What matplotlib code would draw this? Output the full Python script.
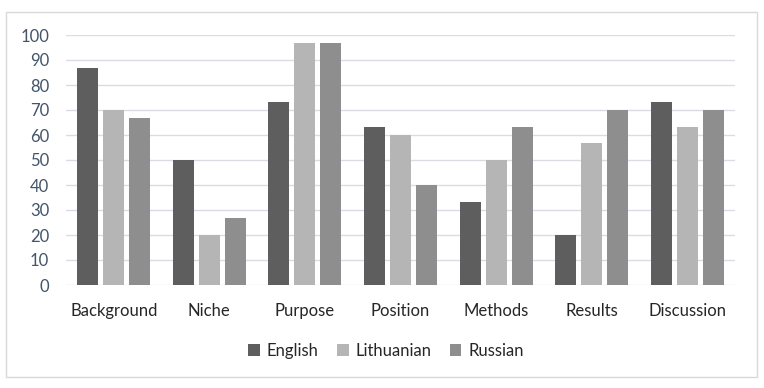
import matplotlib
matplotlib.use("Agg")
import matplotlib.pyplot as plt
import numpy as np
from matplotlib.patches import Rectangle

categories = ["Background", "Niche", "Purpose", "Position", "Methods", "Results", "Discussion"]
english = [86.7, 50, 73.3, 63.3, 33.3, 20, 73.3]
lithuanian = [70, 20, 96.7, 60, 50, 56.7, 63.3]
russian = [66.7, 26.7, 96.7, 40, 63.3, 70, 70]
series_names = ["English", "Lithuanian", "Russian"]
colors = ["#5e5e5e", "#b5b5b5", "#8e8e8e"]
yticks = list(range(0, 101, 10))

plt.rcParams['font.family'] = ['Lato', 'DejaVu Sans']

fig = plt.figure(figsize=(7.64, 3.88), dpi=100)
fig.patches.append(Rectangle((6/764, 1-377/388), 751/764, 365/388, transform=fig.transFigure,
                             fill=False, edgecolor="#d9d9d9", linewidth=1))
ax = fig.add_axes([66/764, 1-285/388, 669/764, 250/388])

x = np.arange(len(categories))
w = 0.22
off = 0.272
for i, (vals, name, c) in enumerate(zip([english, lithuanian, russian], series_names, colors)):
    ax.bar(x + (i-1)*off, vals, width=w, color=c, label=name, zorder=3)

ax.set_xlim(-0.5, len(categories)-0.5)
ax.set_ylim(0, 100)
ax.set_yticks(yticks)
ax.set_yticklabels([str(t) for t in yticks], fontsize=12, color="#44546a")
ax.set_xticks(x)
ax.set_xticklabels(categories, fontsize=12, color="#262626")
ax.tick_params(axis='both', length=0)
ax.tick_params(axis='y', pad=12)
ax.tick_params(axis='x', pad=13)
ax.grid(axis='y', color="#d9dde3", linewidth=1, zorder=0)
for s in ax.spines.values():
    s.set_visible(False)

leg = fig.legend(loc='center', bbox_to_anchor=(386/764, 1-351/388), ncol=3, frameon=False,
                 fontsize=12, handlelength=0.7, handleheight=0.7, columnspacing=1.1, handletextpad=0.4)
for t in leg.get_texts():
    t.set_color("#262626")

fig.savefig("out.png", dpi=100)
